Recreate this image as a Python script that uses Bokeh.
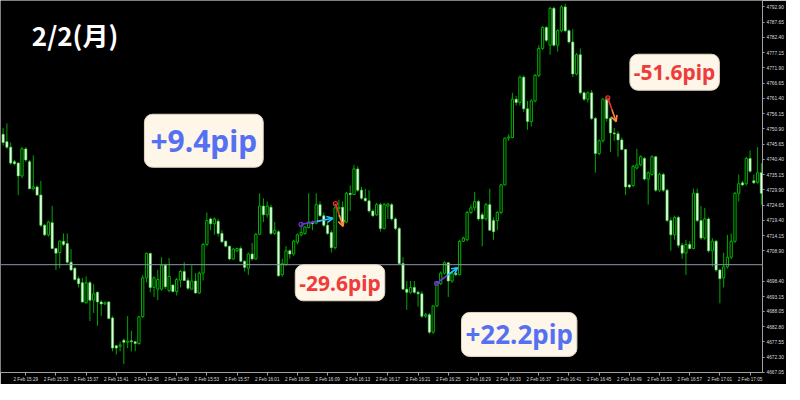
from bokeh.plotting import figure
from bokeh.models import FixedTicker, Label, Arrow, OpenHead, Span, NumeralTickFormatter
from bokeh.embed import file_html
from bokeh.resources import INLINE

# ---------------- data (30-second candles starting 2 Feb 15:26) ----------------
first_bar_minute = 15 * 60 + 26
bar_seconds = 30

opens = [
    4749.0, 4746.5, 4744.6, 4739.6, 4739.1, 4734.7, 4744.0, 4739.6, 4730.3, 4730.9,
    4728.1, 4717.7, 4714.4, 4718.6, 4709.7, 4708.3, 4712.2, 4711.4, 4705.0, 4702.9,
    4699.3, 4697.9, 4691.0, 4697.9, 4691.9, 4694.6, 4691.3, 4690.6, 4691.3, 4685.8,
    4676.2, 4676.0, 4678.1, 4677.4, 4677.9, 4677.6, 4677.0, 4686.2, 4699.6, 4708.0,
    4696.3, 4695.7, 4695.7, 4703.9, 4695.2, 4697.1, 4694.9, 4698.8, 4701.8, 4698.7,
    4695.7, 4698.5, 4694.4, 4701.2, 4711.1, 4719.9, 4718.2, 4719.1, 4714.9, 4712.2,
    4710.5, 4706.1, 4708.9, 4709.7, 4705.3, 4702.9, 4707.8, 4706.1, 4714.6, 4724.3,
    4721.3, 4723.9, 4714.9, 4715.5, 4700.7, 4704.2, 4708.9, 4707.8, 4711.9, 4714.4,
    4714.9, 4716.9, 4718.8, 4718.4, 4724.8, 4721.0, 4717.7, 4715.2, 4710.0, 4723.5,
    4723.9, 4718.8, 4728.7, 4728.3, 4737.1, 4729.8, 4727.0, 4726.1, 4722.6, 4721.3,
    4724.8, 4716.6, 4724.3, 4724.8, 4719.9, 4716.6, 4704.5, 4695.7, 4694.6, 4696.3,
    4694.6, 4694.1, 4686.4, 4686.9, 4680.9, 4689.9, 4697.6, 4701.2, 4704.8, 4698.5,
    4701.2, 4700.7, 4712.2, 4712.7, 4722.1, 4723.7, 4725.9, 4721.3, 4719.9, 4724.8,
    4719.3, 4719.3, 4722.1, 4731.6, 4747.7, 4747.9, 4761.1, 4760.0, 4768.7, 4757.8,
    4753.4, 4760.5, 4769.3, 4778.6, 4785.8, 4779.7, 4792.4, 4779.7, 4784.7, 4792.9,
    4784.7, 4780.8, 4769.8, 4776.4, 4763.3, 4761.1, 4763.3, 4754.5, 4742.4, 4746.8,
    4761.1, 4754.5, 4749.5, 4749.2, 4747.1, 4743.8, 4731.6, 4731.4, 4737.4, 4738.5,
    4740.7, 4733.6, 4735.2, 4741.3, 4729.8, 4735.2, 4729.8, 4719.3, 4714.4, 4720.4,
    4710.8, 4708.1, 4711.1, 4709.7, 4728.7, 4719.3, 4713.3, 4719.9, 4708.9, 4712.2,
    4702.3, 4699.6, 4703.4, 4706.7, 4712.2, 4728.7, 4732.3, 4732.0, 4740.7, 4733.0,
    4732.5, 4735.8,
]
highs = [
    4751.2, 4752.8, 4746.2, 4740.2, 4739.4, 4744.6, 4744.6, 4740.2, 4741.8, 4731.4,
    4733.0, 4718.2, 4719.3, 4724.3, 4710.0, 4712.5, 4714.9, 4714.9, 4709.5, 4703.4,
    4700.1, 4699.6, 4700.1, 4698.5, 4697.4, 4694.9, 4691.9, 4691.5, 4691.6, 4686.4,
    4676.5, 4677.6, 4678.7, 4686.4, 4681.4, 4677.8, 4686.4, 4700.6, 4708.3, 4708.3,
    4700.1, 4702.3, 4706.7, 4704.5, 4706.4, 4697.4, 4699.6, 4702.3, 4705.0, 4699.6,
    4703.9, 4701.2, 4701.8, 4711.6, 4722.1, 4720.4, 4720.4, 4719.9, 4716.0, 4712.5,
    4710.6, 4709.8, 4710.0, 4710.5, 4705.6, 4708.3, 4711.6, 4715.0, 4728.7, 4727.0,
    4725.9, 4724.8, 4718.8, 4716.0, 4706.2, 4710.5, 4709.4, 4712.7, 4714.9, 4717.7,
    4717.4, 4728.7, 4719.3, 4728.7, 4725.9, 4722.1, 4718.8, 4716.0, 4724.8, 4726.5,
    4725.9, 4729.2, 4731.4, 4738.5, 4738.0, 4730.9, 4730.3, 4729.8, 4723.2, 4725.4,
    4725.4, 4725.4, 4725.4, 4725.4, 4720.4, 4717.1, 4706.7, 4698.5, 4698.5, 4698.5,
    4695.2, 4695.0, 4687.5, 4687.5, 4690.2, 4698.5, 4701.8, 4705.3, 4705.0, 4701.8,
    4703.4, 4712.7, 4713.8, 4722.6, 4724.8, 4729.2, 4726.5, 4722.1, 4725.4, 4730.3,
    4720.4, 4722.6, 4731.9, 4747.9, 4749.0, 4763.3, 4762.2, 4769.3, 4769.3, 4760.5,
    4761.1, 4769.8, 4779.7, 4786.3, 4786.3, 4792.9, 4792.9, 4785.2, 4793.5, 4794.0,
    4785.2, 4785.2, 4777.0, 4778.6, 4763.8, 4763.8, 4764.3, 4755.0, 4747.3, 4761.6,
    4762.2, 4755.0, 4751.2, 4750.1, 4747.9, 4744.0, 4731.9, 4738.5, 4744.0, 4741.8,
    4741.3, 4736.3, 4741.8, 4741.5, 4735.8, 4735.8, 4730.3, 4720.4, 4721.0, 4721.0,
    4711.6, 4712.7, 4712.2, 4730.3, 4730.3, 4724.3, 4723.7, 4720.4, 4713.3, 4712.7,
    4702.8, 4708.3, 4714.4, 4714.9, 4729.2, 4735.2, 4733.0, 4741.3, 4743.5, 4735.2,
    4744.6, 4739.1,
]
lows = [
    4745.2, 4744.0, 4738.5, 4738.3, 4728.1, 4733.9, 4739.6, 4730.1, 4729.8, 4727.8,
    4717.1, 4714.0, 4713.8, 4709.5, 4702.3, 4702.9, 4710.5, 4704.5, 4702.0, 4698.7,
    4696.3, 4691.0, 4690.8, 4684.7, 4687.5, 4683.1, 4686.4, 4690.2, 4685.3, 4674.3,
    4673.2, 4674.3, 4669.9, 4675.4, 4674.3, 4674.3, 4676.5, 4685.8, 4698.0, 4694.6,
    4693.0, 4691.9, 4695.2, 4695.7, 4694.6, 4694.6, 4693.5, 4696.3, 4698.5, 4695.4,
    4695.5, 4694.1, 4694.1, 4698.7, 4710.5, 4716.0, 4714.4, 4713.8, 4711.6, 4710.1,
    4705.6, 4705.8, 4708.4, 4705.0, 4701.8, 4700.6, 4705.6, 4705.8, 4714.4, 4718.8,
    4720.4, 4714.4, 4714.3, 4700.0, 4700.0, 4703.7, 4706.2, 4707.2, 4711.1, 4713.8,
    4714.4, 4716.6, 4716.0, 4718.0, 4720.6, 4717.1, 4714.4, 4708.3, 4709.4, 4720.4,
    4718.2, 4718.4, 4722.6, 4728.1, 4729.2, 4726.5, 4725.9, 4722.1, 4720.6, 4721.0,
    4715.5, 4716.3, 4719.9, 4719.3, 4716.0, 4704.3, 4695.6, 4688.6, 4694.1, 4694.1,
    4689.7, 4685.8, 4685.8, 4680.3, 4680.3, 4689.5, 4697.1, 4700.7, 4693.0, 4697.9,
    4700.1, 4700.4, 4711.9, 4712.2, 4721.5, 4722.6, 4719.3, 4710.5, 4719.3, 4715.8,
    4712.7, 4716.0, 4721.5, 4731.4, 4746.8, 4747.7, 4758.9, 4758.9, 4756.7, 4750.6,
    4751.7, 4760.0, 4768.7, 4778.1, 4780.8, 4776.4, 4779.2, 4777.5, 4784.1, 4784.1,
    4780.3, 4768.7, 4769.3, 4762.7, 4760.5, 4760.0, 4753.9, 4735.8, 4741.8, 4746.2,
    4753.4, 4742.9, 4746.8, 4741.3, 4743.5, 4728.1, 4730.3, 4730.9, 4736.9, 4738.0,
    4733.1, 4724.8, 4734.7, 4729.2, 4729.2, 4729.2, 4718.8, 4708.9, 4712.7, 4710.0,
    4706.1, 4700.6, 4709.4, 4709.4, 4718.8, 4712.7, 4712.7, 4708.3, 4703.4, 4701.7,
    4690.8, 4696.3, 4702.8, 4706.1, 4711.6, 4725.9, 4731.2, 4731.4, 4735.8, 4732.0,
    4732.0, 4724.8,
]
closes = [
    4746.2, 4744.6, 4739.1, 4738.9, 4734.7, 4744.0, 4740.2, 4730.3, 4730.9, 4728.1,
    4717.7, 4714.4, 4718.8, 4709.7, 4708.1, 4712.2, 4711.1, 4705.0, 4702.3, 4699.0,
    4697.6, 4691.3, 4697.9, 4691.9, 4694.1, 4691.3, 4690.6, 4691.0, 4685.6, 4675.4,
    4675.4, 4676.5, 4677.4, 4677.8, 4677.6, 4677.0, 4686.2, 4699.6, 4708.0, 4696.3,
    4699.6, 4699.0, 4703.9, 4696.5, 4700.1, 4694.9, 4699.0, 4701.8, 4698.7, 4696.0,
    4698.5, 4694.4, 4701.2, 4711.1, 4719.3, 4718.2, 4719.9, 4714.9, 4712.0, 4710.5,
    4706.1, 4709.5, 4709.7, 4705.3, 4703.2, 4707.8, 4706.1, 4714.6, 4724.3, 4721.3,
    4724.3, 4714.9, 4716.0, 4700.3, 4704.5, 4708.9, 4707.8, 4712.2, 4714.4, 4715.2,
    4717.1, 4718.8, 4718.2, 4724.8, 4721.0, 4717.7, 4714.9, 4710.0, 4723.7, 4723.9,
    4718.8, 4728.7, 4728.3, 4737.1, 4729.8, 4727.0, 4726.1, 4722.6, 4721.0, 4724.8,
    4716.6, 4724.8, 4725.0, 4719.9, 4716.6, 4704.5, 4695.7, 4694.6, 4696.3, 4694.6,
    4694.1, 4686.4, 4686.9, 4680.9, 4689.9, 4697.9, 4701.2, 4704.8, 4698.5, 4701.2,
    4700.7, 4712.1, 4713.3, 4722.1, 4723.7, 4725.9, 4719.9, 4719.9, 4724.8, 4716.0,
    4715.5, 4722.1, 4731.6, 4747.7, 4748.1, 4761.1, 4760.0, 4768.7, 4757.8, 4753.4,
    4760.5, 4769.3, 4778.6, 4785.8, 4781.4, 4792.4, 4779.7, 4784.7, 4792.9, 4784.7,
    4780.8, 4769.8, 4776.4, 4763.3, 4761.1, 4763.3, 4754.5, 4742.4, 4746.8, 4761.1,
    4754.5, 4749.5, 4749.2, 4747.1, 4743.8, 4730.9, 4730.9, 4738.0, 4738.5, 4741.3,
    4733.6, 4735.8, 4741.3, 4729.8, 4735.2, 4729.8, 4719.3, 4714.4, 4720.4, 4710.8,
    4708.1, 4711.1, 4709.7, 4728.7, 4719.3, 4713.3, 4719.9, 4708.9, 4712.2, 4702.3,
    4699.3, 4703.4, 4706.7, 4712.2, 4728.7, 4732.0, 4731.6, 4740.7, 4736.3, 4732.3,
    4735.8, 4728.7,
]

x_tick_labels = [
    "2 Feb 15:29", "2 Feb 15:33", "2 Feb 15:37", "2 Feb 15:41", "2 Feb 15:45",
    "2 Feb 15:49", "2 Feb 15:53", "2 Feb 15:57", "2 Feb 16:01", "2 Feb 16:05",
    "2 Feb 16:09", "2 Feb 16:13", "2 Feb 16:17", "2 Feb 16:21", "2 Feb 16:25",
    "2 Feb 16:29", "2 Feb 16:33", "2 Feb 16:37", "2 Feb 16:41", "2 Feb 16:45",
    "2 Feb 16:49", "2 Feb 16:53", "2 Feb 16:57", "2 Feb 17:01", "2 Feb 17:05",
]
first_label_text = "2 Feb 2026"

y_tick_values = [
    4792.90, 4787.65, 4782.40, 4777.15, 4771.90, 4766.65, 4761.40, 4756.15,
    4750.90, 4745.65, 4740.40, 4735.15, 4729.90, 4724.65, 4719.40, 4714.15,
    4708.90, 4698.40, 4693.15, 4688.05, 4682.80, 4677.55, 4672.30, 4667.05,
]
level_price = 4704.13

# trades: entry (bar, price) -> exit (bar, price)
trade_x0 = [79.0, 88.1, 114.9, 160.3]
trade_y0 = [4718.0, 4725.2, 4697.7, 4761.6]
trade_x1 = [87.4, 90.1, 120.5, 162.5]
trade_y1 = [4720.1, 4717.3, 4703.1, 4753.4]
trade_up = [True, False, True, False]

pip_texts = ["+9.4pip", "-29.6pip", "+22.2pip", "-51.6pip"]
pip_x = [53.2, 89.3, 136.8, 178.0]
pip_y = [4746.8, 4697.9, 4680.1, 4770.4]
pip_sizes = [30, 21, 26, 21]
pip_pads = [6, 4, 4, 4]

title_text = "2/2(月)"

# ---------------- helpers ----------------
def bar_of(hhmm):
    h, m = hhmm.split(":")
    return (int(h) * 60 + int(m) - first_bar_minute) * 60 / bar_seconds

n = len(opens)
xs = list(range(n))
x_lo, x_hi = -0.7, n - 0.7
y_lo, y_hi = 4667.0, 4795.1

p = figure(
    frame_width=762, frame_height=372,
    x_range=(x_lo, x_hi), y_range=(y_lo, y_hi),
    y_axis_location="right",
    output_backend="svg", toolbar_location=None,
    background_fill_color="black", border_fill_color="black",
    min_border_left=0, min_border_top=0, min_border_right=22, min_border_bottom=12,
)
p.outline_line_color = None
p.xgrid.visible = False
p.ygrid.visible = False

# horizontal level
p.add_layout(Span(location=level_price, dimension="width",
                  line_color="#8a95a8", line_width=1))

# wicks
p.segment(x0=xs, y0=highs, x1=xs, y1=lows, line_color="#00a800", line_width=1)

up = [c >= o for o, c in zip(opens, closes)]
ux = [x for x, u in zip(xs, up) if u]
dx = [x for x, u in zip(xs, up) if not u]
u_top = [max(o, c) for o, c, u in zip(opens, closes, up) if u]
u_bot = [min(o, c) for o, c, u in zip(opens, closes, up) if u]
d_top = [max(o, c) for o, c, u in zip(opens, closes, up) if not u]
d_bot = [min(o, c) for o, c, u in zip(opens, closes, up) if not u]

p.vbar(x=ux, top=u_top, bottom=u_bot, width=0.6,
       fill_color="black", line_color="#00b400", line_width=1)
p.vbar(x=dx, top=d_top, bottom=d_bot, width=0.6,
       fill_color="#e8ffe8", line_color="#44d844", line_width=0.6)

# trade arrows
for x0, y0, x1, y1, isup in zip(trade_x0, trade_y0, trade_x1, trade_y1, trade_up):
    c_start = "#6a34d8" if isup else "#f03030"
    c_end = "#28c4ff" if isup else "#ff8a3c"
    xm, ym = (x0 + x1) / 2, (y0 + y1) / 2
    p.segment(x0=[x0], y0=[y0], x1=[xm], y1=[ym], line_color=c_start, line_width=1.6)
    p.add_layout(Arrow(x_start=xm, y_start=ym, x_end=x1, y_end=y1,
                       line_color=c_end, line_width=1.6,
                       end=OpenHead(size=6, line_color=c_end, line_width=1.6)))
    p.scatter(x=[x0], y=[y0], size=4, marker="circle", fill_color=None,
              line_color=c_start, line_width=1.2)

# axes
tick_bars = [bar_of(t.split(" ")[-1]) for t in x_tick_labels]
xa = p.xaxis[0]
xa.ticker = FixedTicker(ticks=tick_bars)
xa.major_label_overrides = {b: t for b, t in zip(tick_bars, x_tick_labels)}
xa.major_label_text_align = "left"
xa.major_label_text_font = "Liberation Sans"
xa.major_label_text_font_size = "4.6px"
xa.major_label_text_color = "#dcdcdc"
xa.major_label_standoff = 1
xa.major_tick_out = 3
xa.major_tick_in = 0
xa.minor_tick_out = 0
xa.minor_tick_in = 0
xa.axis_line_color = "#a0a0a0"
xa.major_tick_line_color = "#a0a0a0"

ya = p.yaxis[0]
ya.ticker = FixedTicker(ticks=y_tick_values)
ya.formatter = NumeralTickFormatter(format="0.00")
ya.major_label_text_font = "Liberation Sans"
ya.major_label_text_font_size = "4.8px"
ya.major_label_text_color = "#dcdcdc"
ya.major_label_standoff = 2
ya.major_tick_out = 2
ya.major_tick_in = 0
ya.minor_tick_out = 0
ya.minor_tick_in = 0
ya.axis_line_color = "#a0a0a0"
ya.major_tick_line_color = "#a0a0a0"

# first (date) label at the left edge of the time axis
p.add_layout(Label(x=x_lo, y=y_lo, text=first_label_text, x_offset=1,
                   text_font="Liberation Sans", text_font_size="4.6px",
                   text_color="#dcdcdc", text_align="left", text_baseline="top",
                   y_offset=-4))

# level price tag on the right axis
p.add_layout(Label(x=x_hi, y=level_price, text=f"{level_price:.2f}",
                   x_offset=1, text_font="Liberation Sans", text_font_size="4.8px",
                   text_color="black", text_align="left", text_baseline="middle",
                   background_fill_color="white", padding=1))

# title
p.add_layout(Label(x=7.6, y=4783.3, text=title_text, text_font="Noto Sans CJK JP",
                   text_font_style="bold", text_font_size="26px", text_color="white",
                   text_align="left", text_baseline="middle"))

# pip result boxes
for t, x, y, s, pad in zip(pip_texts, pip_x, pip_y, pip_sizes, pip_pads):
    col = "#5571f2" if t.startswith("+") else "#f03b3b"
    p.add_layout(Label(x=x, y=y, text=t, text_font="Noto Sans", text_font_style="bold",
                       text_font_size=f"{s}px", text_color=col,
                       text_align="center", text_baseline="middle",
                       background_fill_color="#fdf6e9", border_line_color="#e2d6bf",
                       border_line_width=1, border_radius=8, padding=pad))

open("out.html", "w").write(file_html(p, INLINE))
